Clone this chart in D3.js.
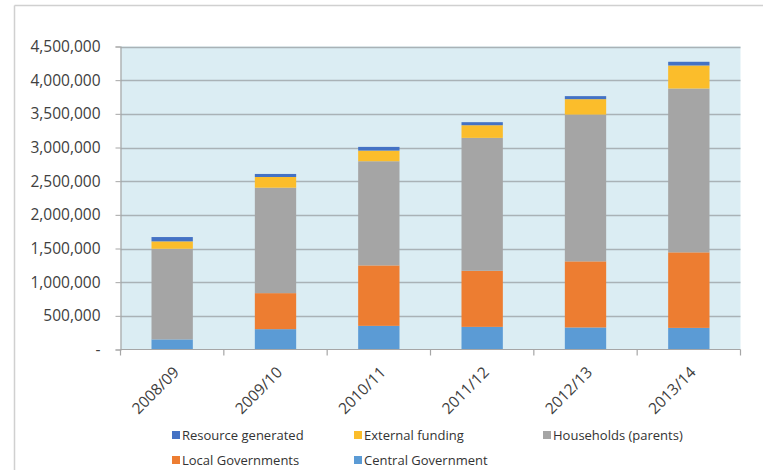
<!DOCTYPE html>
<html>
<head>
<meta charset="utf-8">
<script src="https://cdn.jsdelivr.net/npm/d3@7"></script>
<style>
  html, body { margin: 0; padding: 0; background: #fff; }
  svg { display: block; font-family: "Open Sans", "Liberation Sans", sans-serif; }
</style>
</head>
<body>
<svg id="chart" width="763" height="470"></svg>
<script>
// Funding by source, per school year
const years = ["2008/09", "2009/10", "2010/11", "2011/12", "2012/13", "2013/14"];
const centralGovernment = [150000, 302000, 351000, 336000, 327000, 321000];
const localGovernments  = [0, 535000, 898000, 833000, 982000, 1122000];
const households        = [1346000, 1566000, 1547000, 1974000, 2180000, 2433000];
const externalFunding   = [110000, 159000, 158000, 188000, 229000, 342000];
const resourceGenerated = [64000, 45000, 55000, 45000, 45000, 55000];
const yTicks = [0, 500000, 1000000, 1500000, 2000000, 2500000, 3000000, 3500000, 4000000, 4500000];

// stacking order bottom -> top
const seriesDefs = [
  { key: "central",  name: "Central Government",   values: centralGovernment, color: "#5b9bd5" },
  { key: "local",    name: "Local Governments",    values: localGovernments,  color: "#ed7d31" },
  { key: "house",    name: "Households (parents)", values: households,        color: "#a5a5a5" },
  { key: "external", name: "External funding",     values: externalFunding,   color: "#fbbd2b" },
  { key: "resource", name: "Resource generated",   values: resourceGenerated, color: "#4472c4" }
];

const rows = years.map((y, i) => {
  const r = { year: y };
  seriesDefs.forEach(s => { r[s.key] = s.values[i]; });
  return r;
});

const svg = d3.select("#chart");
const W = 763, H = 470;
const x0 = 120.5, x1 = 740.5, y0 = 349.5, y1 = 46.5;

// outer chart frame
svg.append("line").attr("x1", 14.5).attr("x2", W).attr("y1", 5.5).attr("y2", 5.5)
  .attr("stroke", "#d0d0d0").attr("stroke-width", 1.5);
svg.append("line").attr("x1", 14.5).attr("x2", 14.5).attr("y1", 5.5).attr("y2", H)
  .attr("stroke", "#d0d0d0").attr("stroke-width", 1.5);

const x = d3.scaleBand().domain(years).range([x0, x1]).paddingInner(0.6).paddingOuter(0.3);
const xb = d3.scaleBand().domain(years).range([x0, x1]);
const y = d3.scaleLinear().domain([0, 4500000]).range([y0, y1]);

// plot background
svg.append("rect").attr("x", x0).attr("y", y1).attr("width", x1 - x0).attr("height", y0 - y1)
  .attr("fill", "#dbedf3");

// gridlines
svg.append("g").selectAll("line").data(yTicks.filter(d => d > 0)).join("line")
  .attr("x1", x0).attr("x2", x1)
  .attr("y1", d => Math.round(y(d)) + 0.5).attr("y2", d => Math.round(y(d)) + 0.5)
  .attr("stroke", "#a9b2b6").attr("stroke-width", 1.5);

// stacked bars
const stack = d3.stack().keys(seriesDefs.map(s => s.key));
const layers = stack(rows);
svg.append("g").selectAll("g").data(layers).join("g")
  .attr("fill", (d, i) => seriesDefs[i].color)
  .selectAll("rect").data(d => d).join("rect")
  .attr("x", d => x(d.data.year))
  .attr("width", x.bandwidth())
  .attr("y", d => y(d[1]))
  .attr("height", d => Math.max(0, y(d[0]) - y(d[1])));

// y axis
const fmt = d3.format(",");
const yAxis = svg.append("g").attr("transform", `translate(${x0},0)`)
  .call(d3.axisLeft(y).tickValues(yTicks).tickSize(5).tickPadding(15)
    .tickFormat(d => d === 0 ? "-" : fmt(d)));
yAxis.select(".domain").attr("stroke", "#a6a6a6").attr("stroke-width", 1.2);
yAxis.selectAll(".tick line").attr("stroke", "#a6a6a6");
yAxis.selectAll("text").attr("fill", "#404040").style("font-size", "15.5px")
  .style("font-family", "'Open Sans', sans-serif");

// x axis with ticks at category boundaries
const xAxisG = svg.append("g").attr("transform", `translate(0,${y0})`);
xAxisG.append("line").attr("x1", x0).attr("x2", x1).attr("y1", 0).attr("y2", 0)
  .attr("stroke", "#a6a6a6").attr("stroke-width", 1.2);
const bounds = years.map(d => xb(d)).concat([x1]);
xAxisG.selectAll("line.tk").data(bounds).join("line").attr("class", "tk")
  .attr("x1", d => d).attr("x2", d => d).attr("y1", 0).attr("y2", 6)
  .attr("stroke", "#a6a6a6").attr("stroke-width", 1.2);
xAxisG.selectAll("text").data(years).join("text")
  .attr("transform", d => `translate(${xb(d) + xb.bandwidth() / 2 + 4},20) rotate(-45)`)
  .attr("text-anchor", "end")
  .attr("dy", "0.35em")
  .attr("fill", "#404040")
  .style("font-size", "15.5px")
  .text(d => d);

// legend (drawn in a 3-column grid)
const legendOrder = ["resource", "external", "house", "local", "central"];
const colX = [172, 354, 543];
const rowY = [435, 460];
const legend = svg.append("g");
legendOrder.forEach((k, i) => {
  const s = seriesDefs.find(d => d.key === k);
  const cx = colX[i % 3], cy = rowY[Math.floor(i / 3)];
  legend.append("rect").attr("x", cx).attr("y", cy - 4).attr("width", 8).attr("height", 8)
    .attr("fill", s.color);
  legend.append("text").attr("x", cx + 10).attr("y", cy).attr("dy", "0.35em")
    .attr("fill", "#333").style("font-size", "13px").text(s.name);
});
</script>
</body>
</html>
